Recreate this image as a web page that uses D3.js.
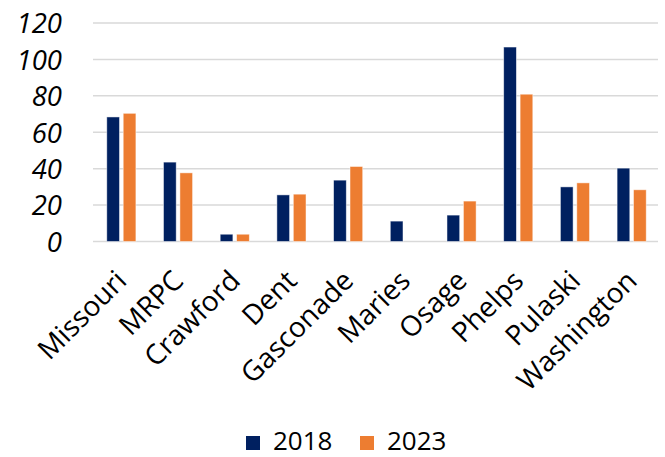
<!DOCTYPE html>
<html>
<head>
<meta charset="utf-8">
<script src="https://cdn.jsdelivr.net/npm/d3@7"></script>
<style>
  html, body { margin: 0; padding: 0; background: #fff; }
  svg { display: block; }
</style>
</head>
<body>
<svg id="chart" width="665" height="457"></svg>
<script>
// Counties and regional totals
const categories = ["Missouri", "MRPC", "Crawford", "Dent", "Gasconade", "Maries", "Osage", "Phelps", "Pulaski", "Washington"];
const seriesNames = ["2018", "2023"];
const values2018 = [68.4, 43.6, 4.0, 25.6, 33.7, 11.2, 14.5, 106.8, 30.0, 40.3];
const values2023 = [70.4, 37.7, 4.0, 26.0, 41.2, 0, 22.2, 80.9, 32.2, 28.4];
const yTicks = [0, 20, 40, 60, 80, 100, 120];
const colors = ["#002060", "#ED7D31"];

const rows = categories.map((c, i) => ({
  category: c,
  values: [values2018[i], values2023[i]]
}));

const svg = d3.select("#chart");
const font = "'Open Sans', 'DejaVu Sans', sans-serif";

const plot = { left: 93, right: 660, top: 23, bottom: 241.5 };

const x0 = d3.scaleBand()
  .domain(categories)
  .range([plot.left, plot.right])
  .padding(0);

const x1 = d3.scaleBand()
  .domain(seriesNames)
  .range([0, x0.bandwidth()])
  .paddingInner(0.226)
  .paddingOuter(0.84);

const y = d3.scaleLinear()
  .domain([0, 120])
  .range([plot.bottom, plot.top]);

// Horizontal gridlines (the zero line doubles as the category axis)
svg.append("g")
  .selectAll("line")
  .data(yTicks)
  .join("line")
  .attr("x1", plot.left)
  .attr("x2", plot.right - 2)
  .attr("y1", d => y(d))
  .attr("y2", d => y(d))
  .attr("stroke", "#d9d9d9")
  .attr("stroke-width", 1.5);

// Value axis labels
const yAxis = d3.axisLeft(y).tickValues(yTicks).tickSize(0).tickPadding(0);
const yG = svg.append("g")
  .attr("transform", `translate(${62},0)`)
  .call(yAxis);
yG.select(".domain").remove();
yG.selectAll("text")
  .attr("font-family", font)
  .attr("font-style", "italic")
  .attr("font-size", 27.5)
  .attr("fill", "#000")
  .attr("dy", "0.36em");

// Bars
const groups = svg.append("g")
  .selectAll("g")
  .data(rows)
  .join("g")
  .attr("transform", d => `translate(${x0(d.category)},0)`);

groups.selectAll("rect")
  .data(d => d.values.map((v, i) => ({ key: seriesNames[i], value: v, i })))
  .join("rect")
  .filter(d => d.value > 0)
  .attr("x", d => x1(d.key))
  .attr("y", d => y(d.value))
  .attr("width", x1.bandwidth())
  .attr("height", d => y(0) - y(d.value))
  .attr("fill", d => colors[d.i])
  .attr("stroke", "#ffffff")
  .attr("stroke-opacity", 0.6)
  .attr("stroke-width", 0.8);

// Category labels, rotated
const xAxis = d3.axisBottom(x0).tickSize(0).tickPadding(0);
const xG = svg.append("g")
  .attr("transform", `translate(0,${plot.bottom})`)
  .call(xAxis);
xG.select(".domain").remove();
xG.selectAll("text")
  .attr("font-family", font)
  .attr("font-size", 28)
  .attr("fill", "#000")
  .attr("text-anchor", "end")
  .attr("dy", 0)
  .attr("y", 0)
  .attr("transform", "translate(7,41) rotate(-45)");

// Legend
const legend = svg.append("g");
const legendX = [246, 360];
seriesNames.forEach((name, i) => {
  legend.append("rect")
    .attr("x", legendX[i])
    .attr("y", 436)
    .attr("width", 14)
    .attr("height", 14)
    .attr("fill", colors[i]);
  legend.append("text")
    .attr("x", legendX[i] + 27)
    .attr("y", 450)
    .attr("font-family", font)
    .attr("font-size", 26)
    .attr("fill", "#000")
    .text(name);
});
</script>
</body>
</html>
